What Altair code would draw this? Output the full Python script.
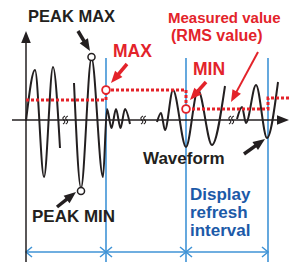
import altair as alt
import pandas as pd
import numpy as np

# ---- data (pixel-like coordinates, y downward) ----
wave_seg = [1] * 5 + [2] * 10 + [3] * 8 + [4] * 6
wave_x = [26, 35, 44, 53, 60,
          74, 81, 91.5, 103, 107, 111.5, 116, 120.5, 125, 130,
          157, 161, 165, 173, 186, 198, 212, 225,
          237, 242, 246, 256, 267, 278]
wave_y = [121, 70, 177, 67, 148,
          83, 188, 58, 177, 109, 128, 109, 128, 109, 124,
          122, 113, 130, 90, 147, 90, 145, 86,
          119, 107, 123, 85, 138, 82]

rms_x = [26, 106, 106, 186, 186, 268, 268, 291]
rms_y = [100, 100, 90, 90, 109, 109, 98, 98]

interval_x = [106, 186, 268]
interval_top = 58
dim_y = 252
dim_x = [26, 268]
chev_left_x = [26, 106, 186]
chev_right_x = [106, 186, 268]

peak_x = [91.5, 81]
peak_y = [57, 191]
mm_x = [106, 186]
mm_y = [90, 109]

break_x = [65, 143, 231]
axis_y = 120
axis_x = 26

arrow_tail_x = [78, 57, 244, 127, 206, 258]
arrow_tail_y = [31, 207, 154, 64, 82, 52]
arrow_tip_x = [90, 76, 265, 111, 190, 231]
arrow_tip_y = [51, 192, 139, 83, 100, 102]
arrow_color = ["black", "black", "black", "red", "red", "red"]
arrow_width = [3.5, 3.5, 3.5, 3.5, 3.5, 2]

labels = ["PEAK MAX", "MAX", "Measured value", "(RMS value)", "MIN",
          "Waveform", "PEAK MIN", "Display", "refresh", "interval"]
label_x = [28, 113, 168, 171, 193, 143, 32, 190, 190, 190]
label_y = [17, 52, 18, 36, 70, 159, 217, 195, 213, 231]
label_size = [16.5, 17.5, 15, 16, 17.5, 17, 17, 17, 17, 17]
label_color = ["black", "red", "red", "red", "red", "black", "black", "blue", "blue", "blue"]

# ---- styles ----
BLACK = "#231f20"
RED = "#e3232a"
BLUE_LINE = "#3f93d6"
BLUE_TEXT = "#1c5aa8"
cmap = {"black": BLACK, "red": RED, "blue": BLUE_TEXT}

W, H = 283, 254
xs = alt.Scale(domain=[8, 291], nice=False, zero=False)
ys = alt.Scale(domain=[8, 262], nice=False, zero=False, reverse=True)
X = lambda f="x": alt.X(f"{f}:Q", scale=xs, axis=None)
Y = lambda f="y": alt.Y(f"{f}:Q", scale=ys, axis=None)

HEAD = "M0,-1L0.8,1L-0.8,1Z"
CHEV_L = "M1.2,-1L0,0L1.2,1"
CHEV_R = "M-1.2,-1L0,0L-1.2,1"
BREAK = "M0,-1Q-0.9,-0.5 -0.3,0Q0.3,0.5 -0.5,1M0.7,-1Q-0.2,-0.5 0.4,0Q1,0.5 0.2,1"

# blue interval lines
blue_v = pd.DataFrame({"x": interval_x, "y": [interval_top] * 3, "y2": [270] * 3})
l_blue = alt.Chart(blue_v).mark_rule(color=BLUE_LINE, strokeWidth=1.6).encode(
    x=X(), y=Y(), y2="y2:Q")
dim = pd.DataFrame({"x": [dim_x[0]], "x2": [dim_x[1]], "y": [dim_y]})
l_dim = alt.Chart(dim).mark_rule(color=BLUE_LINE, strokeWidth=1.6).encode(
    x=X(), x2="x2:Q", y=Y())
l_chl = alt.Chart(pd.DataFrame({"x": chev_left_x, "y": [dim_y] * 3})).mark_point(
    shape=CHEV_L, filled=False, size=100, color=BLUE_LINE, strokeWidth=1.5, opacity=1
).encode(x=X(), y=Y())
l_chr = alt.Chart(pd.DataFrame({"x": chev_right_x, "y": [dim_y] * 3})).mark_point(
    shape=CHEV_R, filled=False, size=100, color=BLUE_LINE, strokeWidth=1.5, opacity=1
).encode(x=X(), y=Y())

# axes
ax = pd.DataFrame({"x": [axis_x, 12], "x2": [axis_x, 281], "y": [43, axis_y], "y2": [270, axis_y]})
l_axes = alt.Chart(ax).mark_rule(color=BLACK, strokeWidth=1.5).encode(
    x=X(), x2="x2:Q", y=Y(), y2="y2:Q")
axh = pd.DataFrame({"x": [axis_x, 283], "y": [37, axis_y], "ang": [0, 90]})
l_axh = alt.Chart(axh).mark_point(shape=HEAD, filled=True, size=144, color=BLACK, opacity=1).encode(
    x=X(), y=Y(), angle=alt.Angle("ang:Q", scale=None))

# break marks
l_br = alt.Chart(pd.DataFrame({"x": break_x, "y": [axis_y] * 3})).mark_point(
    shape=BREAK, filled=False, size=64, color=BLACK, strokeWidth=1.1, opacity=1
).encode(x=X(), y=Y())

# waveform
wave = pd.DataFrame({"x": wave_x, "y": wave_y, "seg": wave_seg, "i": range(len(wave_x))})
l_wave = alt.Chart(wave).mark_line(color=BLACK, strokeWidth=2, interpolate="monotone").encode(
    x=X(), y=Y(), detail="seg:N", order="i:Q")

# rms dashed
rms = pd.DataFrame({"x": rms_x, "y": rms_y, "i": range(len(rms_x))})
l_rms = alt.Chart(rms).mark_line(color=RED, strokeWidth=3, strokeDash=[3, 2]).encode(
    x=X(), y=Y(), order="i:Q")

# circles
l_pk = alt.Chart(pd.DataFrame({"x": peak_x, "y": peak_y})).mark_point(
    shape="circle", filled=False, fill="white", size=50, color=BLACK, strokeWidth=1.5, opacity=1
).encode(x=X(), y=Y())
l_mm = alt.Chart(pd.DataFrame({"x": mm_x, "y": mm_y})).mark_point(
    shape="circle", filled=False, fill="white", size=60, color=RED, strokeWidth=1.8, opacity=1
).encode(x=X(), y=Y())

# annotation arrows
tx, ty = np.array(arrow_tail_x, float), np.array(arrow_tail_y, float)
px, py = np.array(arrow_tip_x, float), np.array(arrow_tip_y, float)
dx, dy = px - tx, py - ty
ln = np.hypot(dx, dy)
ux, uy = dx / ln, dy / ln
L = 12
shaft = pd.DataFrame({"x": tx, "y": ty, "x2": px - ux * L * 0.7, "y2": py - uy * L * 0.7,
                      "c": [cmap[c] for c in arrow_color], "w": arrow_width})
l_shaft = alt.Chart(shaft).mark_rule().encode(
    x=X(), y=Y(), x2="x2:Q", y2="y2:Q",
    color=alt.Color("c:N", scale=None), strokeWidth=alt.StrokeWidth("w:Q", scale=None))
heads = pd.DataFrame({"x": px - ux * L / 2, "y": py - uy * L / 2,
                      "ang": np.mod(np.degrees(np.arctan2(dx, -dy)), 360),
                      "c": [cmap[c] for c in arrow_color]})
l_heads = alt.Chart(heads).mark_point(shape=HEAD, filled=True, size=L * L, opacity=1).encode(
    x=X(), y=Y(), angle=alt.Angle("ang:Q", scale=None), color=alt.Color("c:N", scale=None))

# texts
tdf = pd.DataFrame({"t": labels, "x": label_x, "y": label_y, "s": label_size,
                    "c": [cmap[c] for c in label_color]})
l_text = alt.Chart(tdf).mark_text(
    font="Liberation Sans", fontWeight="bold", align="left", baseline="middle"
).encode(x=X(), y=Y(), text="t:N", color=alt.Color("c:N", scale=None),
         size=alt.Size("s:Q", scale=None))

chart = alt.layer(
    l_blue, l_dim, l_chl, l_chr, l_axes, l_axh, l_br, l_wave, l_rms, l_pk, l_mm,
    l_shaft, l_heads, l_text
).properties(width=W, height=H, padding=0, autosize="none").configure_view(stroke=None)

chart.save("out.html", embed_options={"renderer": "svg", "actions": False})
